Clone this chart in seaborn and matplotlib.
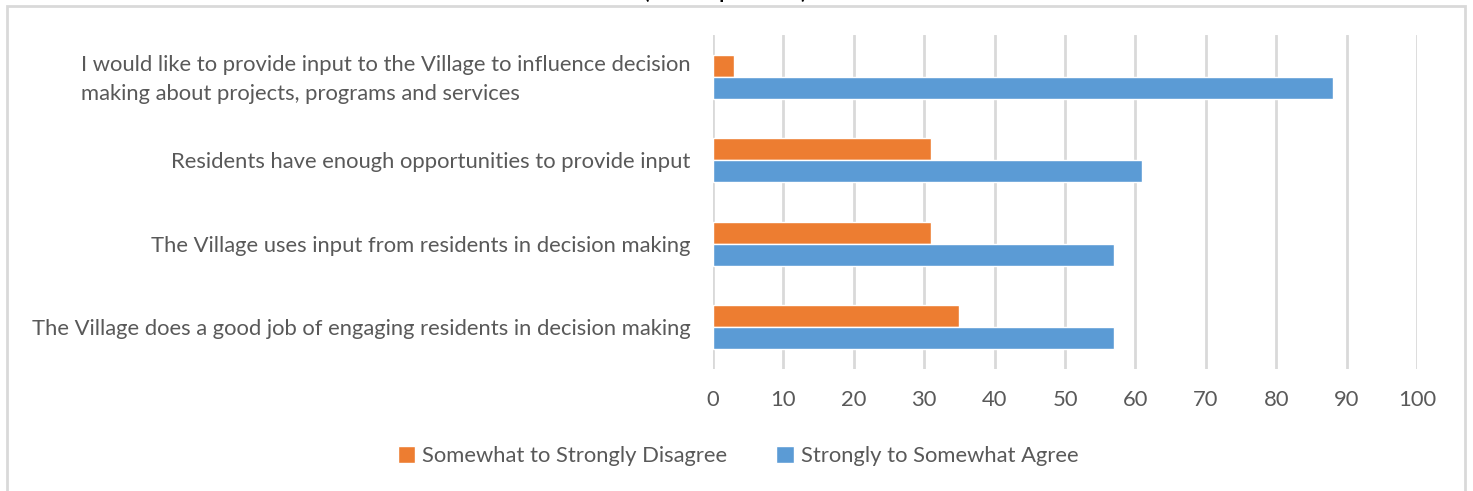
import matplotlib
matplotlib.use("Agg")
import matplotlib.pyplot as plt
import matplotlib.transforms as mtransforms
import seaborn as sns
import pandas as pd
from matplotlib.patches import Rectangle

categories = [
    "I would like to provide input to the Village to influence decision\nmaking about projects, programs and services",
    "Residents have enough opportunities to provide input",
    "The Village uses input from residents in decision making",
    "The Village does a good job of engaging residents in decision making",
]
series_names = ["Somewhat to Strongly Disagree", "Strongly to Somewhat Agree"]
disagree = [3, 31, 31, 35]
agree = [88, 61, 57, 57]
x_ticks = [0, 10, 20, 30, 40, 50, 60, 70, 80, 90, 100]
colors = ["#ED7D31", "#5B9BD5"]

df = pd.DataFrame({
    "category": categories * 2,
    "series": [series_names[0]] * 4 + [series_names[1]] * 4,
    "value": disagree + agree,
})

sns.set_theme(style="white")
plt.rcParams["font.family"] = ["Lato", "DejaVu Sans"]

fig = plt.figure(figsize=(14.73, 4.91), dpi=100)
ax = fig.add_axes([713 / 1473, 1 - 369 / 491, (1417 - 713) / 1473, (369 - 35) / 491])

sns.barplot(data=df, y="category", x="value", hue="series", order=categories,
            hue_order=series_names, palette=colors, orient="h", width=0.53,
            saturation=1, ax=ax, zorder=3)

ax.set_xlim(0, 100)
ax.set_xticks(x_ticks)
ax.set_xticklabels([str(t) for t in x_ticks])
ax.set_xlabel("")
ax.set_ylabel("")
for s in ax.spines.values():
    s.set_visible(False)
ax.grid(axis="x", color="#D9D9D9", linewidth=2, zorder=0)
ax.grid(axis="y", visible=False)
ax.tick_params(axis="x", colors="#595959", labelsize=15.8, length=0, pad=15)
ax.tick_params(axis="y", colors="#595959", labelsize=15.8, length=0, pad=16)
for i, lbl in enumerate(ax.get_yticklabels()):
    lbl.set_multialignment("left")
    lbl.set_linespacing(1.6)
    if "\n" in lbl.get_text():
        lbl.set_transform(lbl.get_transform() +
                          mtransforms.ScaledTranslation(0, 4 / 100, fig.dpi_scale_trans))

leg = ax.legend(loc="center", bbox_to_anchor=(738 / 1473, 1 - 456 / 491),
                bbox_transform=fig.transFigure, ncol=2, frameon=False,
                fontsize=15.8, handlelength=0.8, handleheight=0.8,
                handletextpad=0.3, columnspacing=2.25, labelcolor="#595959")

fig.text(725 / 1473, 1 + 1 / 491, "(% of respondents)", ha="center", va="baseline",
         fontsize=14, fontweight="bold", color="black")

fig.patches.append(Rectangle((7 / 1473, -0.05), (1465 - 7) / 1473, 1 - 6 / 491 + 0.05,
                             transform=fig.transFigure, fill=False,
                             edgecolor="#D9D9D9", linewidth=2, figure=fig))

fig.savefig("out.png", dpi=100)
